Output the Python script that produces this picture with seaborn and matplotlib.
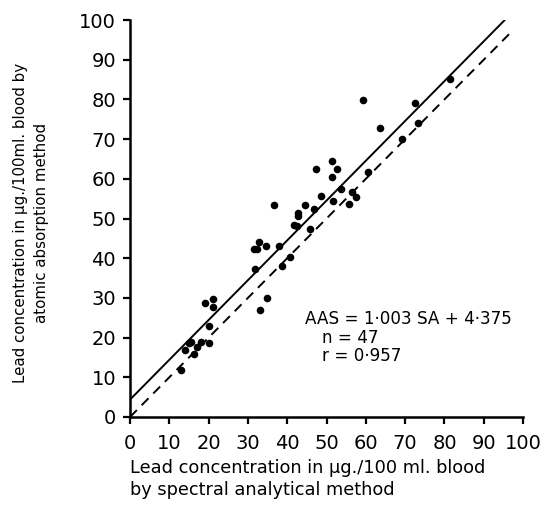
import matplotlib
matplotlib.use("Agg")
import matplotlib.pyplot as plt
import numpy as np
import pandas as pd
import seaborn as sns

# spectral analytical (SA) vs atomic absorption (AAS), ug/100 ml blood
sa = [13.0, 14.0, 14.9, 15.5, 16.2, 17.0, 18.1, 20.2, 20.0, 19.0,
      21.0, 21.0, 33.0, 34.9, 31.8, 31.5, 32.3, 32.7, 34.7, 37.8,
      36.6, 38.7, 40.6, 41.7, 42.5, 42.7, 42.7, 45.7, 44.6, 46.7,
      47.4, 48.5, 51.5, 52.6, 51.5, 51.6, 53.6, 55.7, 56.4, 57.4,
      59.4, 60.6, 63.5, 69.3, 72.5, 73.3, 81.5]
aas = [11.8, 16.9, 18.7, 19.0, 15.9, 17.7, 19.0, 18.7, 22.8, 28.8,
       29.6, 27.7, 27.0, 30.1, 37.3, 42.2, 42.2, 44.2, 43.1, 43.1,
       53.4, 38.1, 40.4, 48.4, 48.2, 51.5, 50.6, 47.4, 53.4, 52.3,
       62.6, 55.7, 64.5, 62.5, 60.5, 54.4, 57.4, 53.6, 56.6, 55.5,
       79.8, 61.6, 72.7, 70.0, 79.0, 74.1, 85.1]

slope = 1.003
intercept = 4.375
ticks = list(range(0, 101, 10))

df = pd.DataFrame({"SA": sa, "AAS": aas})

sns.set_style("ticks")
plt.rcParams["font.family"] = ["DejaVu Sans"]
plt.rcParams.update({"text.color": "black", "axes.labelcolor": "black",
                     "xtick.color": "black", "ytick.color": "black",
                     "axes.edgecolor": "black"})

fig = plt.figure(figsize=(5.47, 5.05), dpi=100)
ax = fig.add_axes([0.2377, 0.1743, 0.7185, 0.786])

# regression line and line of identity
x_fit = np.array([0, (100 - intercept) / slope])
sns.lineplot(x=x_fit, y=slope * x_fit + intercept, ax=ax, color="black", lw=1.4)
x_id = np.array([0, 97.5])
sns.lineplot(x=x_id, y=x_id, ax=ax, color="black", lw=1.4, linestyle=(0, (5, 3.5)))

sns.scatterplot(data=df, x="SA", y="AAS", ax=ax, color="black", s=30,
                edgecolor="black", linewidth=0)

ax.set_xlim(0, 100)
ax.set_ylim(0, 100)
ax.set_xticks(ticks)
ax.set_yticks(ticks)
ax.tick_params(axis="both", labelsize=14, length=5, width=1.6, direction="out")
ax.tick_params(axis="x", pad=7)
ax.tick_params(axis="y", pad=5)
for sp in ["left", "bottom"]:
    ax.spines[sp].set_linewidth(1.8)
sns.despine(ax=ax)

ax.set_xlabel("Lead concentration in µg./100 ml. blood\nby spectral analytical method",
              fontsize=12.8, ha="left", linespacing=1.3)
ax.xaxis.set_label_coords(0.0, -0.105)
ax.set_ylabel("Lead concentration in µg./100ml. blood by\natomic absorption method",
              fontsize=10.8, linespacing=1.5)
ax.yaxis.set_label_coords(-0.205, 0.49)

ax.text(44.6, 23.5, "AAS = 1·003 SA + 4·375", fontsize=12.1)
ax.text(48.8, 18.6, "n = 47", fontsize=12.1)
ax.text(48.8, 14.1, "r = 0·957", fontsize=12.1)

fig.savefig("out.png", dpi=100)
